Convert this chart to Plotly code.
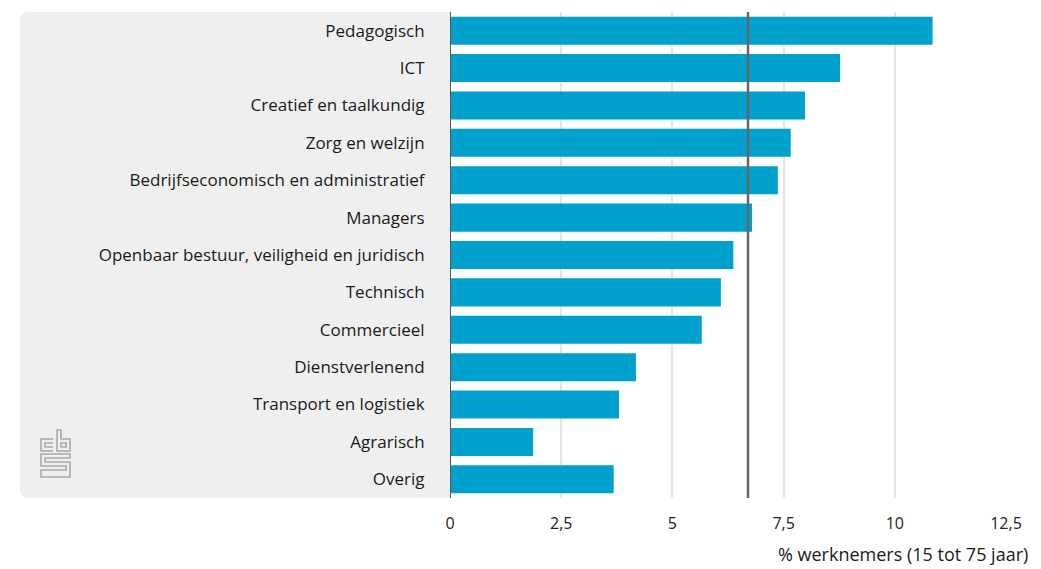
import plotly.graph_objects as go

categories = ["Pedagogisch", "ICT", "Creatief en taalkundig", "Zorg en welzijn",
              "Bedrijfseconomisch en administratief", "Managers",
              "Openbaar bestuur, veiligheid en juridisch", "Technisch", "Commercieel",
              "Dienstverlenend", "Transport en logistiek", "Agrarisch", "Overig"]
values = [10.85, 8.77, 7.98, 7.66, 7.37, 6.79, 6.37, 6.09, 5.66, 4.18, 3.8, 1.87, 3.68]
average = 6.7
tick_vals = [0, 2.5, 5, 7.5, 10, 12.5]
x_title = "% werknemers (15 tot 75 jaar)"

# page has an 8px body margin, so the figure is a little smaller than the window
OFF = 8
W, H = 1041 - OFF, 569 - OFF
L, R, T, B = 450, 1006, 12, 498
BAR = "#00a1cd"
FONT = "Open Sans"


def px(x):
    return (x - L) / (R - L)


def py(y):
    return (B - y) / (B - T)


def path(points, close=False):
    s = "M " + " L ".join("{:.4f},{:.4f}".format(px(a), py(b)) for a, b in points)
    return s + (" Z" if close else "")


fig = go.Figure()
fig.add_trace(go.Bar(x=values, y=categories, orientation="h",
                     marker=dict(color=BAR, line=dict(width=0)),
                     hoverinfo="x+y"))

shapes = []
# grey label panel with rounded left corners
r = 9
x0, y0, x1, y1 = 20, 12, L, B
panel = ("M {a},{t} L {e},{t} L {e},{b} L {a},{b} Q {x0},{b} {x0},{b2} L {x0},{t2} Q {x0},{t} {a},{t} Z"
         .format(a=px(x0 + r), e=px(x1), t=py(y0), b=py(y1), x0=px(x0), b2=py(y1 - r), t2=py(y0 + r)))
shapes.append(dict(type="path", xref="paper", yref="paper", path=panel,
                   fillcolor="#efefef", line=dict(width=0), layer="below"))

# cbs logo (outline drawing)
logo = "#a9a9a9"
logo_paths = [
    path([(53, 439), (41, 439), (41, 451), (53, 451)]),
    path([(53, 443), (45, 443), (45, 447), (53, 447)]),
    path([(57, 430), (57, 451), (70, 451), (70, 439), (61, 439), (61, 430)], close=True),
    path([(61, 443), (66, 443), (66, 447), (61, 447)], close=True),
    path([(70, 454), (41, 454), (41, 466), (66, 466), (66, 470), (41, 470), (41, 477),
          (70, 477), (70, 462), (45, 462), (45, 458), (70, 458)], close=True),
]
for p in logo_paths:
    shapes.append(dict(type="path", xref="paper", yref="paper", path=p,
                       line=dict(color=logo, width=1.6), layer="above"))

# average line
shapes.append(dict(type="line", xref="x", yref="paper", x0=average, x1=average, y0=0, y1=1,
                   line=dict(color="#666666", width=2.5), layer="above"))
# zero axis line
shapes.append(dict(type="line", xref="x", yref="paper", x0=0, x1=0, y0=0, y1=1,
                   line=dict(color="#555555", width=2), layer="above"))

fig.update_layout(
    width=W, height=H,
    margin=dict(l=L - OFF, r=W - (R - OFF), t=T - OFF, b=H - (B - OFF)),
    paper_bgcolor="white", plot_bgcolor="white",
    font=dict(family=FONT, size=17, color="#1a1a1a"),
    separators=",.",
    bargap=0.25,
    showlegend=False,
    shapes=shapes,
    annotations=[dict(text=x_title, xref="paper", yref="paper", x=px(1030), y=py(554),
                      xanchor="right", yanchor="middle", showarrow=False,
                      font=dict(family=FONT, size=18, color="#1a1a1a"))],
)
fig.update_xaxes(range=[0, 12.5], tickvals=tick_vals, showgrid=True, gridcolor="#e4e4e4",
                 gridwidth=2, zeroline=False, showline=False, ticks="outside", ticklen=11,
                 tickcolor="rgba(0,0,0,0)", tickfont=dict(family=FONT, size=16, color="#222222"))
fig.update_yaxes(autorange="reversed", showgrid=False, zeroline=False, showline=False,
                 ticks="outside", ticklen=21, tickcolor="rgba(0,0,0,0)",
                 tickfont=dict(family=FONT, size=17, color="#1a1a1a"))

fig.write_html("out.html")
